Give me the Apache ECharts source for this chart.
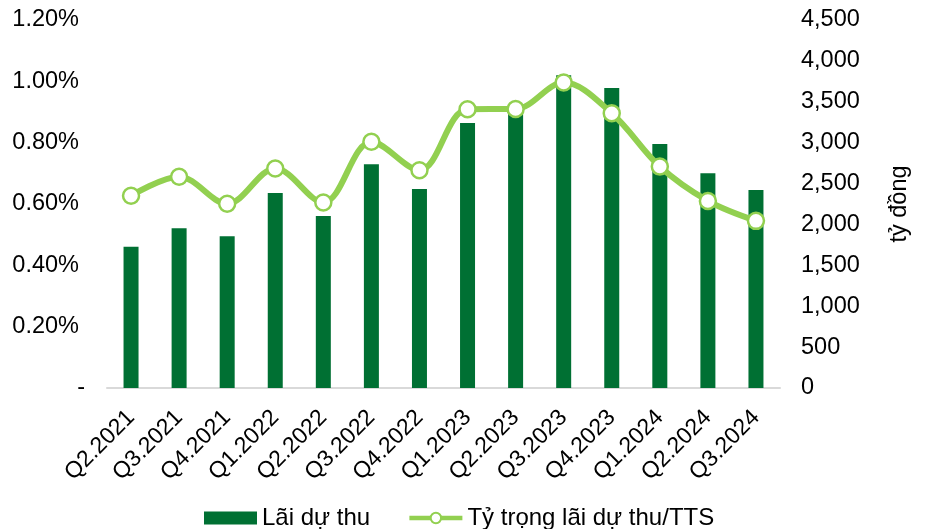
<!DOCTYPE html>
<html>
<head>
<meta charset="utf-8">
<script src="https://cdn.jsdelivr.net/npm/echarts@6/dist/echarts.min.js"></script>
<style>
html,body{margin:0;padding:0;background:#fff;}
#chart{width:926px;height:529px;}
</style>
</head>
<body>
<div id="chart"></div>
<script>
const categories = ['Q2.2021','Q3.2021','Q4.2021','Q1.2022','Q2.2022','Q3.2022','Q4.2022','Q1.2023','Q2.2023','Q3.2023','Q4.2023','Q1.2024','Q2.2024','Q3.2024'];
const accruedInterest = [1728, 1953, 1855, 2385, 2103, 2735, 2433, 3240, 3400, 3825, 3668, 2984, 2625, 2421];
const ratioPct = [0.627, 0.689, 0.601, 0.716, 0.605, 0.803, 0.710, 0.909, 0.910, 0.996, 0.896, 0.722, 0.610, 0.545];
const barName = 'Lãi dự thu';
const lineName = 'Tỷ trọng lãi dự thu/TTS';
const rightAxisName = 'tỷ đồng';

const FONT = '"Liberation Sans", Arial, sans-serif';
const chart = echarts.init(document.getElementById('chart'), null, {renderer:'canvas'});
chart.setOption({
  animation: false,
  textStyle: {fontFamily: FONT, color: '#000'},
  grid: {left: 107, right: 146, top: 20, bottom: 141, containLabel: false},
  legend: {
    left: 199, top: 501,
    itemWidth: 53, itemHeight: 13, itemGap: 37,
    textStyle: {fontFamily: FONT, fontSize: 24, color: '#000'},
    data: [
      {name: barName, icon: 'rect'},
      {name: lineName, lineStyle: {width: 4.5}, itemStyle: {borderWidth: 2}}
    ]
  },
  xAxis: {
    type: 'category',
    data: categories,
    axisLine: {show: true, lineStyle: {color: '#D9D9D9', width: 2}},
    axisTick: {show: false},
    axisLabel: {rotate: 45, fontSize: 23, color: '#000', fontFamily: FONT, margin: 26, interval: 0}
  },
  yAxis: [
    {
      type: 'value', min: 0, max: 1.2, interval: 0.2,
      splitLine: {show: false}, axisLine: {show: false}, axisTick: {show: false},
      axisLabel: {
        fontSize: 23.5, color: '#000', fontFamily: FONT, margin: 28,
        formatter: v => v === 0 ? '{d|-}' : v.toFixed(2) + '%',
        rich: {d: {fontSize: 23.5, fontFamily: FONT, color: '#000', padding: [0, -6, 0, 0]}}
      }
    },
    {
      type: 'value', min: 0, max: 4500, interval: 500, position: 'right',
      splitLine: {show: false}, axisLine: {show: false}, axisTick: {show: false},
      axisLabel: {
        fontSize: 23.5, color: '#000', fontFamily: FONT, margin: 21,
        formatter: v => v.toLocaleString('en-US')
      },
      name: rightAxisName, nameLocation: 'middle', nameRotate: 90, nameGap: 108,
      nameTextStyle: {fontSize: 23.5, color: '#000', fontFamily: FONT}
    }
  ],
  series: [
    {
      name: barName, type: 'bar', yAxisIndex: 1, data: accruedInterest,
      barWidth: 15, itemStyle: {color: '#007033'}, z: 2
    },
    {
      name: lineName, type: 'line', yAxisIndex: 0, data: ratioPct,
      smooth: 0.35, symbol: 'circle', symbolSize: 16,
      lineStyle: {color: '#92D050', width: 6},
      itemStyle: {color: '#FFFFFF', borderColor: '#92D050', borderWidth: 2.5},
      z: 3
    }
  ]
});
</script>
</body>
</html>
